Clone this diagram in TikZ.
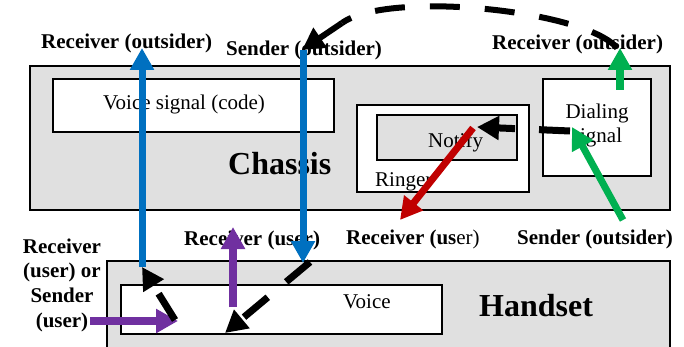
\documentclass[tikz,border=0pt]{standalone}
\usepackage{fontspec}
\setmainfont{Liberation Serif}
\usetikzlibrary{arrows.meta}
\definecolor{panelgray}{HTML}{E0E0E0}
\definecolor{flowblue}{HTML}{0070C0}
\definecolor{flowgreen}{HTML}{00B050}
\definecolor{flowred}{HTML}{C00000}
\definecolor{flowpurple}{HTML}{7030A0}
\tikzset{
  panel/.style={draw=black, line width=1.5pt, fill=panelgray, inner sep=0pt, outer sep=0pt, anchor=north west},
  part/.style={draw=black, line width=1.5pt, fill=white, inner sep=0pt, outer sep=0pt, anchor=north west},
  lbl/.style={font=\fontsize{21}{24}\selectfont\bfseries, inner sep=0pt, anchor=base west},
  txt/.style={font=\fontsize{21}{24}\selectfont, inner sep=0pt, anchor=base west},
  title/.style={font=\fontsize{32}{36}\selectfont\bfseries, inner sep=0pt, anchor=base west},
  flow/.style={line width=#1, -{Triangle[width=23pt,length=22pt]}},
  flowdash/.style={line width=7pt, dash pattern=on 31pt off 24pt, -{Triangle[width=23pt,length=22pt]}},
}
\begin{document}
\begin{tikzpicture}[x=1pt,y=-1pt]
\useasboundingbox (0,0) rectangle (684,347);
\clip (0,0) rectangle (684,347);

% chassis and its parts
\node[panel, minimum width=640pt, minimum height=144pt] (chassis) at (30,66) {};
\node[part, minimum width=281pt, minimum height=53pt] (voicecode) at (53,79) {};
\node[part, minimum width=172pt, minimum height=87pt] (ringer) at (357,105) {};
\node[panel, minimum width=140pt, minimum height=45pt] (notify) at (377,115) {};
\node[part, minimum width=108pt, minimum height=97pt] (dialing) at (543,79) {};

% handset and its part
\node[panel, minimum width=563pt, minimum height=110pt] (handset) at (107,261) {};
\node[part, minimum width=321pt, minimum height=49pt] (voice) at (121,285) {};

% texts inside the boxes
\node[txt] (t-voicecode) at (103,110) {Voice signal (code)};
\node[title] (t-chassis) at (228,175) {Chassis};
\node[txt] (t-notify) at (428,148) {Notify};
\node[txt] (t-ringer) at (375,187) {Ringer};
\node[txt, anchor=base] (t-dial1) at (597,119) {Dialing};
\node[txt, anchor=base] (t-dial2) at (597,143) {signal};
\node[title] (t-handset) at (479,316) {Handset};
\node[txt] (t-voice) at (343,308) {Voice};

% actor labels
\node[lbl] (recv-out-l) at (41,49) {Receiver (outsider)};
\node[lbl] (send-out-l) at (226,56) {Sender (outsider)};
\node[lbl] (recv-out-r) at (492,50) {Receiver (outsider)};
\node[txt] (recv-user-r) at (346,244) {\textbf{Receiver (us}er)};
\node[lbl] (send-out-r) at (517,244) {Sender (outsider)};
\node[lbl] (recv-user-m) at (184,245) {Receiver (user)};
\node[lbl, anchor=base] (ru1) at (62,253) {Receiver};
\node[lbl, anchor=base] (ru2) at (62,277) {(user) or};
\node[lbl, anchor=base] (ru3) at (62,302) {Sender};
\node[lbl, anchor=base] (ru4) at (62,327) {(user)};

% arrow end points
\coordinate (bu-s) at (142,267);
\coordinate (bu-e) at (142,48);
\coordinate (bd-s) at (303,50);
\coordinate (bd-e) at (303,263);
\coordinate (gu-s) at (620,90);
\coordinate (gu-e) at (620,48);
\coordinate (gd-s) at (623,220);
\coordinate (gd-e) at (572,127);
\coordinate (rd-s) at (473,128);
\coordinate (rd-e) at (400,220);
\coordinate (pu-s) at (233,307);
\coordinate (pu-e) at (233,227);
\coordinate (pr-s) at (90,321);
\coordinate (pr-e) at (178,321);
\coordinate (kl-s) at (175,320);
\coordinate (kr-s) at (310,262);
\coordinate (kr-e) at (225,333);
\coordinate (kn-s) at (570,131);
\coordinate (kn-e) at (477,127);
\coordinate (kt-s) at (617,48);
\coordinate (kt-m) at (342,23);
\coordinate (kt-e) at (302,50);

% coloured flows
\draw[flow=7pt, flowblue] (bu-s) -- (bu-e);
\draw[flow=7pt, flowblue] (bd-s) -- (bd-e);
\draw[flow=8pt, flowgreen] (gu-s) -- (gu-e);
\draw[flow=7pt, flowgreen] (gd-s) -- (gd-e);
\draw[flow=7pt, flowred] (rd-s) -- (rd-e);
\draw[flow=8pt, flowpurple] (pu-s) -- (pu-e);
\draw[flow=8pt, flowpurple] (pr-s) -- (pr-e);

% black dashed hand-offs
\draw[flowdash] (kl-s) -- (bu-s);
\draw[flowdash] (kr-s) -- (kr-e);
\draw[flowdash] (kn-s) -- (kn-e);

% long dashed arc over the chassis, ending in a short solid dash and its head
\draw[line width=6pt, dash pattern=on 30pt off 25pt]
  (kt-s) .. controls (585,10) and (388,-10) .. (kt-m);
\draw[line width=6pt, -{Triangle[width=23pt,length=22pt]}] (kt-m) -- (kt-e);
\end{tikzpicture}
\end{document}
